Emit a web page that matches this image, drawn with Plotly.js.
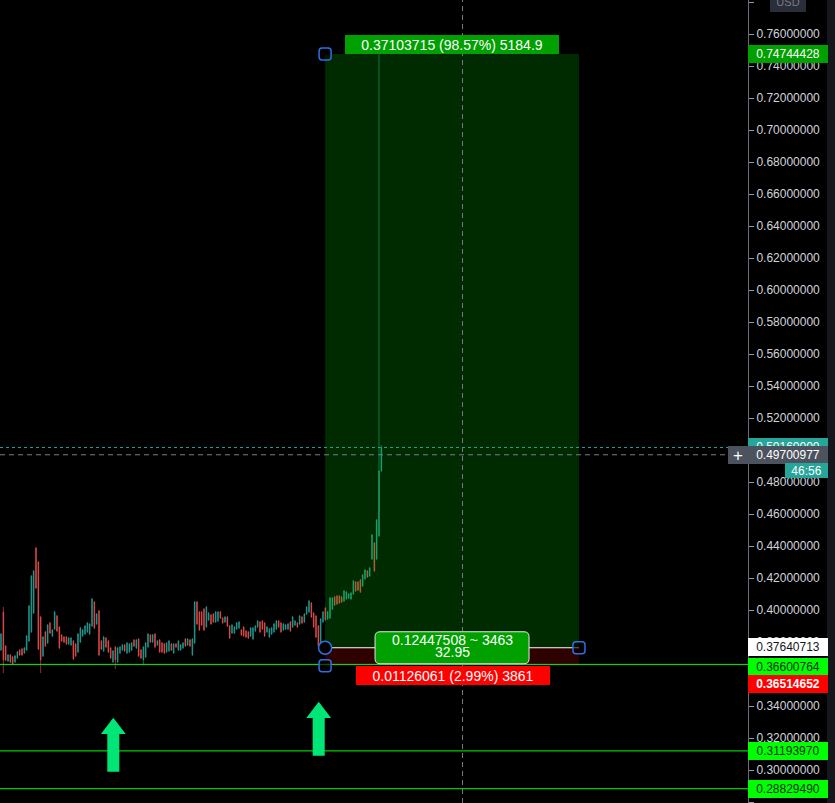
<!DOCTYPE html>
<html>
<head>
<meta charset="utf-8">
<script src="https://cdn.plot.ly/plotly-3.0.1.min.js"></script>
<style>html,body{margin:0;padding:0;background:#000;}#chart{width:835px;height:803px;}</style>
</head>
<body>
<div id="chart"></div>
<script>
// ---- data ----
const openP = [0.375,0.3988,0.3775,0.3681,0.3719,0.3706,0.3675,0.37,0.375,0.3756,0.3731,0.375,0.3806,0.3863,0.3981,0.4388,0.43,0.3956,0.3713,0.3863,
0.3794,0.3919,0.3838,0.3881,0.3963,0.3894,0.3844,0.3831,0.3831,0.3788,0.3781,0.3806,0.3788,0.3738,0.38,0.3838,0.385,0.3863,0.385,0.39,
0.405,0.3913,0.3994,0.3806,0.3744,0.3825,0.3806,0.3763,0.3675,0.3769,0.3675,0.3731,0.375,0.3781,0.3731,0.3738,0.375,0.3813,0.3763,0.3819,
0.375,0.3688,0.3706,0.3769,0.3844,0.38,0.385,0.3781,0.3813,0.3794,0.3788,0.3738,0.3744,0.3788,0.3731,0.3788,0.375,0.375,0.3763,0.3819,
0.3781,0.3813,0.3719,0.3794,0.405,0.3988,0.3988,0.4006,0.3894,0.3938,0.3969,0.3975,0.3925,0.3931,0.3988,0.395,0.3925,0.3956,0.39,0.3856,
0.3856,0.3881,0.3888,0.3875,0.3894,0.3869,0.3863,0.3838,0.3819,0.3869,0.3894,0.3925,0.3931,0.3919,0.3863,0.3831,0.385,0.3863,0.3881,0.3931,
0.3919,0.3875,0.3881,0.3881,0.3925,0.3894,0.3906,0.3919,0.3913,0.3956,0.3925,0.3975,0.3988,0.4044,0.3981,0.3963,0.39,0.3788,0.3925,0.4013,
0.3944,0.395,0.4006,0.4081,0.4088,0.4088,0.4081,0.4056,0.4069,0.4075,0.4069,0.41,0.4175,0.4175,0.4188,0.415,0.4194,0.4244,0.4213,0.4319,
0.4419,0.4319,0.4463,0.4869];
const highP = [0.3856,0.4019,0.3781,0.3725,0.3725,0.3713,0.3719,0.3744,0.3756,0.3763,0.3769,0.3844,0.4031,0.4219,0.425,0.4394,0.4306,0.3963,0.3838,0.3869,
0.3913,0.3925,0.3881,0.3994,0.3969,0.39,0.385,0.3838,0.3838,0.3831,0.3831,0.3813,0.3794,0.3856,0.3894,0.3881,0.3906,0.3925,0.3919,0.4075,
0.4056,0.3981,0.4,0.3813,0.3838,0.3831,0.3813,0.3769,0.375,0.3775,0.3769,0.3775,0.3788,0.3788,0.38,0.3794,0.38,0.3819,0.3819,0.3825,
0.3756,0.3775,0.38,0.3856,0.385,0.385,0.3856,0.3813,0.3819,0.38,0.3794,0.38,0.3813,0.3794,0.3794,0.3794,0.3813,0.3788,0.38,0.3825,
0.3825,0.3819,0.3825,0.4056,0.4056,0.3994,0.3994,0.4013,0.4025,0.3988,0.3975,0.3981,0.3994,0.3994,0.3994,0.3956,0.3963,0.3963,0.3906,0.3913,
0.39,0.3925,0.3931,0.3881,0.39,0.3875,0.3869,0.3894,0.3894,0.3906,0.3938,0.3931,0.3938,0.3925,0.39,0.3888,0.3894,0.3919,0.3938,0.3938,
0.3925,0.3919,0.3913,0.3919,0.3931,0.3963,0.3938,0.3925,0.3969,0.3963,0.3981,0.4025,0.4063,0.405,0.3988,0.3969,0.3906,0.395,0.3994,0.4019,
0.3994,0.4081,0.4081,0.4088,0.4094,0.4094,0.4088,0.4125,0.4119,0.4106,0.4113,0.4188,0.4181,0.4181,0.4194,0.4225,0.4256,0.425,0.4269,0.4475,
0.4425,0.4569,0.7474,0.5031];
const lowP = [0.3744,0.3606,0.3681,0.3675,0.3669,0.3656,0.3669,0.3694,0.3713,0.3713,0.3725,0.3744,0.38,0.3856,0.3975,0.4131,0.375,0.3606,0.3706,0.3769,
0.3788,0.385,0.3831,0.3875,0.3863,0.3756,0.38,0.3794,0.3781,0.3781,0.3775,0.3688,0.3706,0.3731,0.3794,0.3831,0.3844,0.3856,0.3844,0.3894,
0.3881,0.3906,0.3713,0.375,0.3738,0.3763,0.3731,0.3694,0.3669,0.3631,0.3669,0.3725,0.3744,0.3738,0.3725,0.3731,0.3744,0.3769,0.3756,0.3706,
0.3694,0.3656,0.37,0.3763,0.3794,0.3794,0.3763,0.3775,0.3731,0.3731,0.3725,0.3731,0.3738,0.3744,0.3725,0.3763,0.3744,0.3744,0.3756,0.3769,
0.3775,0.3769,0.3713,0.3788,0.3906,0.3869,0.39,0.3869,0.3888,0.3931,0.3906,0.3919,0.3919,0.3925,0.3944,0.3913,0.3919,0.3894,0.3819,0.385,
0.385,0.3875,0.3881,0.3838,0.3831,0.3825,0.3819,0.3831,0.3813,0.3863,0.3888,0.3856,0.3875,0.3831,0.3856,0.3825,0.3844,0.3856,0.3875,0.3888,
0.3856,0.3869,0.3875,0.3875,0.3863,0.3888,0.39,0.3888,0.3906,0.3913,0.3919,0.3969,0.3981,0.395,0.3888,0.3825,0.3769,0.3781,0.3919,0.3931,
0.3938,0.3944,0.4,0.4025,0.4031,0.4038,0.4044,0.405,0.4063,0.4069,0.4063,0.4094,0.4113,0.4119,0.4106,0.4144,0.4188,0.42,0.4206,0.4313,
0.4238,0.4313,0.4456,0.4863];
const closeP = [0.385,0.3688,0.3688,0.3719,0.3675,0.3663,0.3713,0.3738,0.3719,0.3719,0.3763,0.3838,0.4025,0.4213,0.4244,0.4138,0.3756,0.3688,0.3831,0.3775,
0.3906,0.3856,0.3875,0.3988,0.3869,0.3763,0.3806,0.38,0.3788,0.3825,0.3825,0.3694,0.3713,0.385,0.3888,0.3875,0.39,0.3919,0.3913,0.4069,
0.3888,0.3975,0.3719,0.3756,0.3831,0.3769,0.3738,0.37,0.3744,0.3688,0.3763,0.3769,0.3781,0.3744,0.3794,0.3788,0.3794,0.3775,0.3813,0.3713,
0.37,0.3769,0.3794,0.385,0.38,0.3844,0.3769,0.3806,0.3738,0.3738,0.3731,0.3794,0.3806,0.375,0.3788,0.3769,0.3806,0.3781,0.3794,0.3775,
0.3819,0.3775,0.3819,0.405,0.3913,0.3875,0.3906,0.3875,0.4019,0.3981,0.3913,0.3925,0.3988,0.3988,0.395,0.3919,0.3956,0.39,0.3825,0.3906,
0.3894,0.3919,0.3925,0.3844,0.3838,0.3831,0.3825,0.3888,0.3888,0.39,0.3931,0.3863,0.3881,0.3838,0.3894,0.3881,0.3888,0.3913,0.3931,0.3894,
0.3863,0.3913,0.3906,0.3913,0.3869,0.3956,0.3931,0.3894,0.3963,0.3919,0.3975,0.4019,0.4056,0.3956,0.3894,0.3831,0.3775,0.3944,0.3988,0.3938,
0.3988,0.4075,0.4075,0.4031,0.4038,0.4044,0.405,0.4119,0.4113,0.41,0.4106,0.4181,0.4119,0.4125,0.4113,0.4219,0.425,0.4206,0.4263,0.4469,
0.4244,0.4563,0.4869,0.5016];

const targetPrice = 0.74744428;
const entryPrice  = 0.37640713;
const stopPrice   = 0.36514652;
const levelPrices = [0.36600764, 0.31193970, 0.28829490];
const crossPrice  = 0.49700977;
const countdown   = "46:56";
const midLine1    = "0.12447508 ~ 3463";
const midLine2    = "32.95";
const targetQty   = "5184.9";
const stopQty     = "3861";

// ---- layout helpers ----
const xIdx = openP.map((_, i) => i + 1);
const lastPrice = closeP[closeP.length - 1];
const zoneX0 = 139.9, zoneX1 = 248.7, zoneMid = (zoneX0 + zoneX1) / 2;
const crossX = 198.8;
const FONT = "Liberation Sans, Arial, sans-serif";
const BLUE = "#2f6fe0";

const profit = targetPrice - entryPrice;
const loss = entryPrice - stopPrice;
const topText = profit.toFixed(8) + " (" + (profit / entryPrice * 100).toFixed(2) + "%) " + targetQty;
const stopText = loss.toFixed(8) + " (" + (loss / entryPrice * 100).toFixed(2) + "%) " + stopQty;

const trace = {
  type: "candlestick", x: xIdx, open: openP, high: highP, low: lowP, close: closeP,
  increasing: {line: {color: "#26a69a", width: 0.6}, fillcolor: "#26a69a"},
  decreasing: {line: {color: "#ef5350", width: 0.6}, fillcolor: "#ef5350"},
  whiskerwidth: 0, hoverinfo: "skip", showlegend: false
};

const shapes = [];
shapes.push({type: "rect", xref: "paper", yref: "paper", x0: 827/748, x1: 835/748, y0: 0, y1: 1,
  fillcolor: "#15171c", line: {width: 0}, layer: "below"});
shapes.push({type: "rect", xref: "x", yref: "y", x0: zoneX0, x1: zoneX1, y0: entryPrice, y1: targetPrice,
  fillcolor: "rgba(0,200,0,0.21)", line: {width: 0}, layer: "above"});
shapes.push({type: "rect", xref: "x", yref: "y", x0: zoneX0, x1: zoneX1, y0: stopPrice, y1: entryPrice,
  fillcolor: "rgba(255,0,0,0.18)", line: {width: 0}, layer: "above"});
levelPrices.forEach(p => shapes.push({type: "line", xref: "paper", yref: "y", x0: 0, x1: 1, y0: p, y1: p,
  line: {color: "#00ff00", width: 1}, layer: "above"}));
shapes.push({type: "line", xref: "paper", yref: "y", x0: 0, x1: 1, y0: lastPrice, y1: lastPrice,
  line: {color: "#26a69a", width: 1, dash: "dot"}, layer: "above"});
shapes.push({type: "line", xref: "x", yref: "y", x0: zoneX0, x1: zoneX1, y0: entryPrice, y1: entryPrice,
  line: {color: "#ffffff", width: 1}, layer: "above"});
shapes.push({type: "line", xref: "paper", yref: "y", x0: 0, x1: 1, y0: crossPrice, y1: crossPrice,
  line: {color: "#787b86", width: 1, dash: "5px,4px"}, layer: "above"});
shapes.push({type: "line", xref: "x", yref: "paper", x0: crossX, x1: crossX, y0: 0, y1: 1,
  line: {color: "#787b86", width: 1, dash: "5px,4px"}, layer: "above"});
shapes.push({type: "path", xref: "x", yref: "y", xsizemode: "pixel", ysizemode: "pixel",
  xanchor: zoneMid, yanchor: entryPrice,
  path: "M -72,16 L 72,16 Q 77,16 77,11 L 77,-11 Q 77,-16 72,-16 L -72,-16 Q -77,-16 -77,-11 L -77,11 Q -77,16 -72,16 Z",
  fillcolor: "#00a000", line: {color: "#e6e6e6", width: 1}, layer: "above"});
function handleSq(xa, ya) {
  return {type: "path", xref: "x", yref: "y", xsizemode: "pixel", ysizemode: "pixel", xanchor: xa, yanchor: ya,
    path: "M -3,6 L 3,6 Q 6,6 6,3 L 6,-3 Q 6,-6 3,-6 L -3,-6 Q -6,-6 -6,-3 L -6,3 Q -6,6 -3,6 Z",
    fillcolor: "rgba(0,0,0,0.6)", line: {color: BLUE, width: 1.5}, layer: "above"};
}
shapes.push(handleSq(zoneX0, targetPrice));
shapes.push(handleSq(zoneX0, stopPrice));
shapes.push(handleSq(zoneX1, entryPrice));
shapes.push({type: "circle", xref: "x", yref: "y", xsizemode: "pixel", ysizemode: "pixel",
  xanchor: zoneX0, yanchor: entryPrice, x0: -6.5, x1: 6.5, y0: -6.5, y1: 6.5,
  fillcolor: "#000", line: {color: BLUE, width: 1.5}, layer: "above"});
function arrow(xa, ya) {
  return {type: "path", xref: "x", yref: "y", xsizemode: "pixel", ysizemode: "pixel", xanchor: xa, yanchor: ya,
    path: "M 0,0 L 12.4,-16.3 L 6,-16.3 L 6,-54 L -6,-54 L -6,-16.3 L -12.4,-16.3 Z",
    fillcolor: "#00e676", line: {width: 0}, layer: "above"};
}
shapes.push(arrow(49.13, 0.3327));
shapes.push(arrow(137.16, 0.3427));

const ann = [];
function priceLabel(y, text, bg, fg, yshift) {
  ann.push({xref: "paper", yref: "y", x: 1, xanchor: "left", y: y, yanchor: "middle", yshift: yshift || 0,
    text: text, showarrow: false, width: 80, height: 18, align: "center", bgcolor: bg,
    borderpad: 0, borderwidth: 0, font: {family: FONT, size: 12, color: fg}});
}
priceLabel(targetPrice, targetPrice.toFixed(8), "#00a000", "#ffffff");
priceLabel(lastPrice, lastPrice.toFixed(8), "#26a69a", "#ffffff");
priceLabel(crossPrice, crossPrice.toFixed(8), "#4c525e", "#ffffff");
ann.push({xref: "paper", yref: "y", x: 1, xanchor: "right", y: crossPrice, yanchor: "middle",
  text: "+", showarrow: false, width: 20, height: 18, bgcolor: "#4c525e", borderpad: 0, borderwidth: 0,
  font: {family: FONT, size: 17, color: "#ffffff"}});
ann.push({xref: "paper", yref: "y", x: 828/748, xanchor: "right", y: crossPrice, yanchor: "middle", yshift: -16,
  text: countdown, showarrow: false, width: 43, height: 15, bgcolor: "#26a69a", borderpad: 0, borderwidth: 0,
  font: {family: FONT, size: 12, color: "#ffffff"}});
priceLabel(entryPrice, entryPrice.toFixed(8), "#ffffff", "#131722", 0.5);
priceLabel(levelPrices[0], levelPrices[0].toFixed(8), "#00ff00", "#0b2b0b", -2.3);
priceLabel(stopPrice, "<b>" + stopPrice.toFixed(8) + "</b>", "#ff0000", "#ffffff", -18.4);
priceLabel(levelPrices[1], levelPrices[1].toFixed(8), "#00ff00", "#0b2b0b", 0);
priceLabel(levelPrices[2], levelPrices[2].toFixed(8), "#00ff00", "#0b2b0b", 0);
ann.push({xref: "paper", yref: "paper", x: 788/748, xanchor: "center", y: 1, yanchor: "middle", yshift: -2,
  text: "USD", showarrow: false, width: 36, height: 20, bgcolor: "#2a2e39", borderpad: 0, borderwidth: 0,
  font: {family: FONT, size: 11, color: "#787b86"}});
ann.push({xref: "x", yref: "y", x: zoneMid, y: targetPrice, xanchor: "center", yanchor: "bottom",
  text: topText, showarrow: false, width: 214, height: 19, bgcolor: "#00a000", borderpad: 0, borderwidth: 0,
  font: {family: FONT, size: 14, color: "#ffffff"}});
ann.push({xref: "x", yref: "y", x: zoneMid, y: stopPrice, xanchor: "center", yanchor: "top", xshift: 1,
  text: stopText, showarrow: false, width: 194, height: 19, bgcolor: "#ff0000", borderpad: 0, borderwidth: 0,
  font: {family: FONT, size: 14, color: "#ffffff"}});
ann.push({xref: "x", yref: "y", x: zoneMid, y: entryPrice, xanchor: "center", yanchor: "middle", yshift: 8,
  text: midLine1, showarrow: false, font: {family: FONT, size: 14, color: "#ffffff"}});
ann.push({xref: "x", yref: "y", x: zoneMid, y: entryPrice, xanchor: "center", yanchor: "middle", yshift: -4,
  text: midLine2, showarrow: false, font: {family: FONT, size: 14, color: "#ffffff"}});

const layout = {
  width: 835, height: 803,
  margin: {l: 0, r: 87, t: 0, b: 0, pad: 0},
  paper_bgcolor: "#000000", plot_bgcolor: "#000000",
  showlegend: false, dragmode: false, boxgap: 0.55,
  xaxis: {range: [0.571, 321.14], visible: false, rangeslider: {visible: false}, fixedrange: true},
  yaxis: {side: "right", range: [0.279375, 0.78125], tick0: 0, dtick: 0.02, tickformat: ".8f",
    ticks: "outside", ticklen: 5, tickcolor: "#9598a1", showline: true, linecolor: "#6a6d78", linewidth: 1,
    showgrid: false, zeroline: false, fixedrange: true,
    tickfont: {family: FONT, size: 12, color: "#d1d4dc"}},
  shapes: shapes,
  annotations: ann
};

Plotly.newPlot("chart", [trace], layout, {displayModeBar: false, staticPlot: true});
</script>
</body>
</html>
